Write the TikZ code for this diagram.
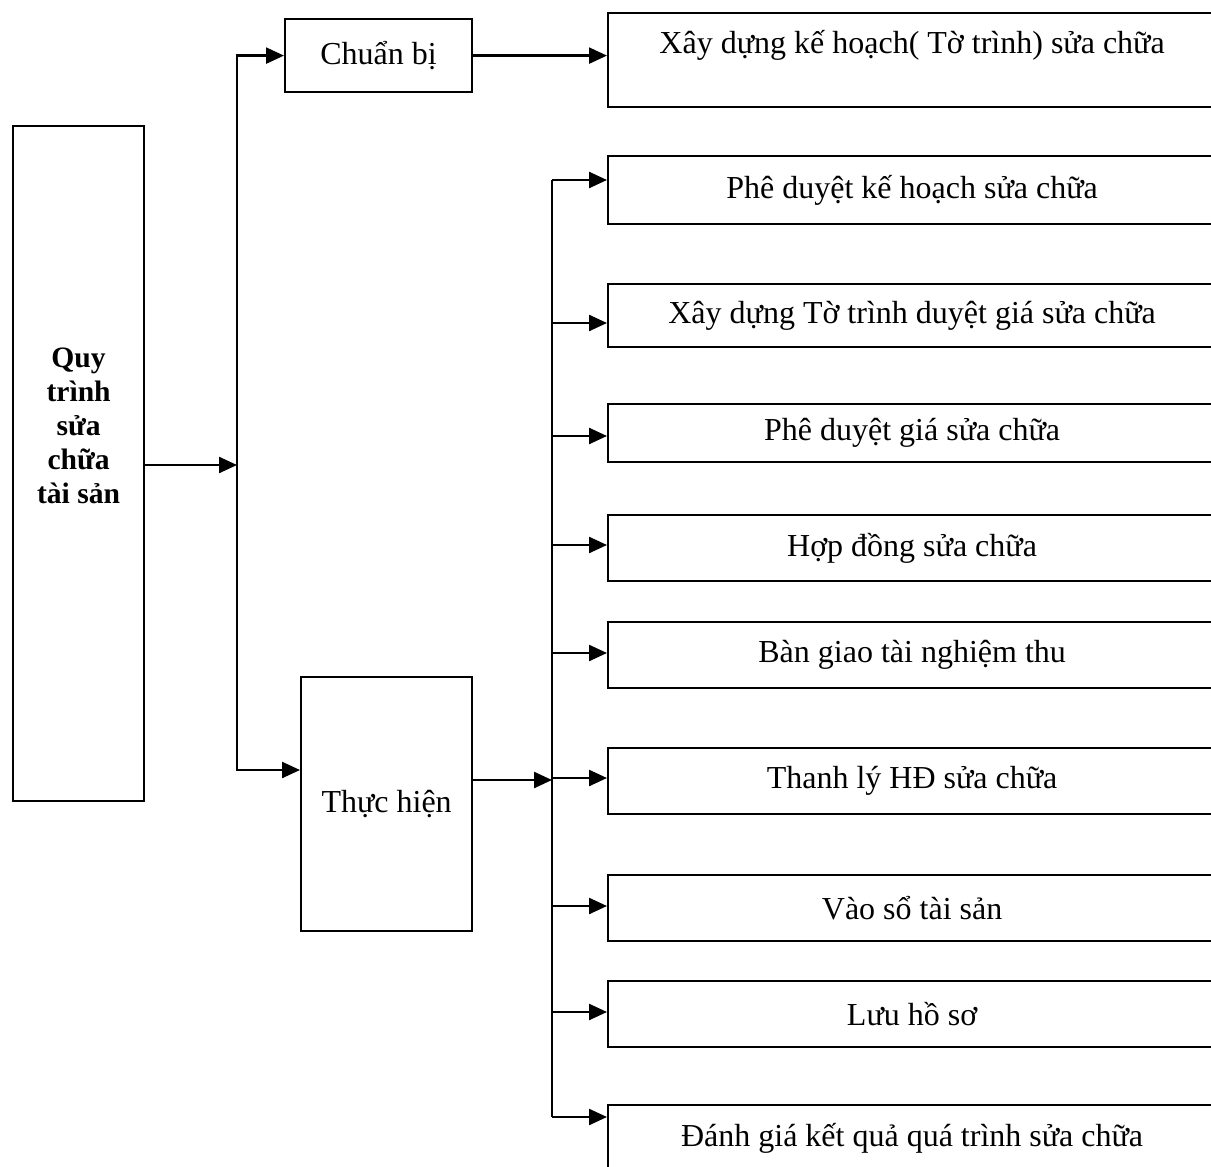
\documentclass[tikz,border=0pt]{standalone}
\usepackage{fontspec}
\setmainfont{Liberation Serif}
\usepackage{tikz}
\usetikzlibrary{arrows.meta,positioning,calc}

\begin{document}
\begin{tikzpicture}[x=0.5pt,y=-0.5pt,
  every node/.style={font=\fontsize{16}{18}\selectfont},
  process/.style={draw,line width=1.1pt,inner sep=0pt,anchor=north west,align=center},
  stepbox/.style={process,minimum width=310pt,minimum height=33pt},
  title/.style={font=\fontsize{14.8}{17}\selectfont\bfseries},
  line/.style={line width=1.2pt},
  to/.style={line,-{Triangle[length=9pt,width=8pt]}}]

    \useasboundingbox (0,0) rectangle (1211,1167);

    % main blocks
    \node[process,title,minimum width=65.5pt,minimum height=337.5pt] (repair) at (12,125)
        {Quy\\trình\\sửa\\chữa\\tài sản\\\mbox{}\\[4pt]\mbox{}};
    \node[process,minimum width=93.5pt,minimum height=36.5pt] (prep) at (284,18) {Chuẩn bị};
    \node[process,minimum width=85.5pt,minimum height=127pt] (exec) at (300,676) {Thực hiện};
    \node[process,minimum width=310pt,minimum height=47pt] (plan) at (607,12)
        {\hspace*{-6pt}Xây dựng kế hoạch( Tờ trình) sửa chữa\\\mbox{}};

    % steps of the work
    \node[stepbox,minimum height=34pt] (approve) at (607,155) {\hspace*{-6pt}Phê duyệt kế hoạch sửa chữa};
    \node[stepbox,minimum height=31.5pt] (price) at (607,283) {\hspace*{-6pt}Xây dựng Tờ trình duyệt giá sửa chữa};
    \node[stepbox,minimum height=29pt] (pricok) at (607,403) {\hspace*{-6pt}Phê duyệt giá sửa chữa};
    \node[stepbox] (contract) at (607,514) {\hspace*{-6pt}Hợp đồng sửa chữa};
    \node[stepbox] (handover) at (607,621) {\hspace*{-6pt}Bàn giao tài nghiệm thu};
    \node[stepbox] (settle) at (607,747) {\hspace*{-6pt}Thanh lý HĐ sửa chữa};
    \node[stepbox] (ledger) at (607,874) {\hspace*{-6pt}Vào sổ tài sản};
    \node[stepbox] (archive) at (607,980) {\hspace*{-6pt}Lưu hồ sơ};
    \node[stepbox] (review) at (607,1104) {\hspace*{-6pt}Đánh giá kết quả quá trình sửa chữa};

    \coordinate (split) at (237,465);
    \coordinate (join) at (552,780);
    \coordinate (busTop) at (552,180);
    \coordinate (busBot) at (552,1117);

    \draw[to] (repair.east |- split) -- (split);
    \draw[to] (split) |- (prep.west);
    \draw[to] (split) |- (exec.west |- 0,770);
    \draw[to] (prep.east) -- (plan.west |- prep.east);

    \draw[to] (exec.east |- join) -- (join);
    \draw[line] (busTop) -- (busBot);

    \draw[to] (busTop) -- (approve.west |- busTop);
    \draw[to] (busTop |- 0,323) -- (price.west |- 0,323);
    \draw[to] (busTop |- 0,436) -- (pricok.west |- 0,436);
    \draw[to] (busTop |- 0,545) -- (contract.west |- 0,545);
    \draw[to] (busTop |- 0,653) -- (handover.west |- 0,653);
    \draw[to] (busTop |- 0,778) -- (settle.west |- 0,778);
    \draw[to] (busTop |- 0,906) -- (ledger.west |- 0,906);
    \draw[to] (busTop |- 0,1012) -- (archive.west |- 0,1012);
    \draw[to] (busBot) -- (review.west |- busBot);
\end{tikzpicture}
\end{document}
